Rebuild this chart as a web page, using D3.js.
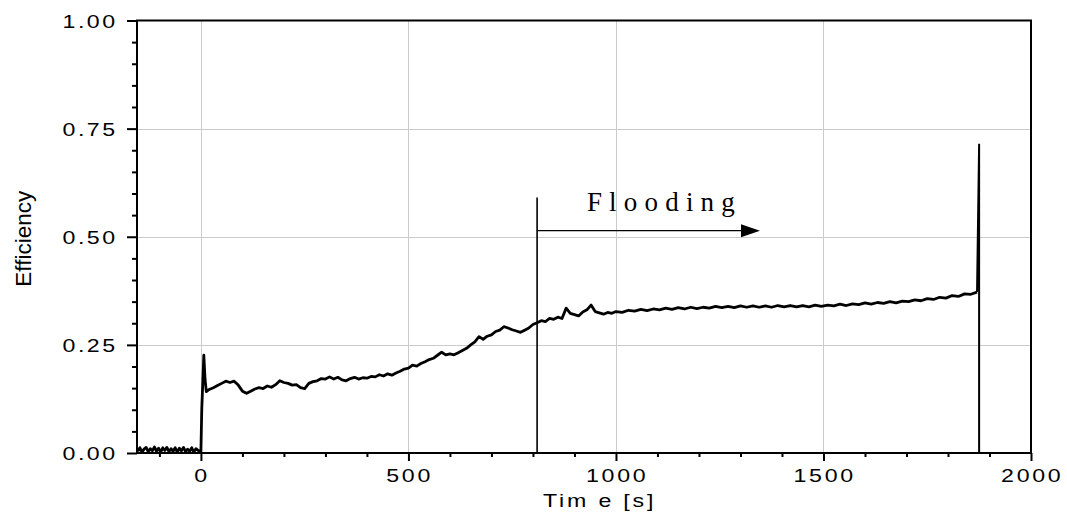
<!DOCTYPE html>
<html><head><meta charset="utf-8">
<script src="https://cdn.jsdelivr.net/npm/d3@7"></script>
<style>body{margin:0;background:#fff}svg{display:block}</style>
</head><body><svg id="c" width="1067" height="518"></svg>
<script>
// ---- data ----
const baseTime = [-152,-147,-142,-137,-132,-127,-122,-117,-112,-107,-102,-97,-92,-87,-82,-77,-72,-67,-62,-57,-52,-47,-42,-37,-32,-27,-22,-17,-12,-7,-2];
const baseEff  = [0.004,0.012,0.002,0.009,0.013,0.003,0.010,0.005,0.014,0.004,0.011,0.002,0.012,0.006,0.013,0.003,0.010,0.004,0.012,0.002,0.011,0.005,0.013,0.003,0.009,0.004,0.012,0.002,0.010,0.006,0.004];
const startTime = [0,2,4,7,10,13];
const startEff  = [0.003,0.100,0.150,0.226,0.170,0.142];
const runTime = [20,30,40,50,60,70,80,90,100,110,120,130,140,150,160,170,180,190,200,210,220,230,240,250,260,270,280,290,300,310,320,330,340,350,360,370,380,390,400,410,420,430,440,450,460,470,480,490,500,510,520,530,540,550,560,570,580,590,600,610,620,630,640,650,660,670,680,690,700,710,720,730,740,750,760,770,780,790,800,810,820,830,840,850,860,870,880,890,900,910,920,930,940,950,960,970,980,990,1000];
const runEff  = [0.147,0.151,0.156,0.161,0.166,0.163,0.166,0.157,0.143,0.138,0.143,0.148,0.151,0.149,0.155,0.152,0.158,0.167,0.163,0.161,0.157,0.158,0.151,0.149,0.161,0.165,0.167,0.172,0.171,0.176,0.171,0.175,0.169,0.167,0.172,0.175,0.171,0.174,0.173,0.177,0.176,0.181,0.178,0.183,0.180,0.185,0.189,0.194,0.196,0.203,0.201,0.207,0.211,0.216,0.219,0.226,0.233,0.227,0.229,0.227,0.232,0.237,0.242,0.250,0.257,0.269,0.263,0.270,0.273,0.281,0.284,0.292,0.289,0.285,0.282,0.279,0.284,0.289,0.297,0.301,0.306,0.304,0.311,0.309,0.314,0.311,0.335,0.323,0.320,0.317,0.326,0.331,0.342,0.327,0.324,0.321,0.325,0.323,0.327];
const lateTime = [1015,1030,1045,1060,1075,1090,1105,1120,1135,1150,1165,1180,1195,1210,1225,1240,1255,1270,1285,1300,1315,1330,1345,1360,1375,1390,1405,1420,1435,1450,1465,1480,1495,1510,1525,1540,1555,1570,1585,1600,1615,1630,1645,1660,1675,1690,1705,1720,1735,1750,1765,1780,1795,1810,1825,1840,1855,1870];
const lateEff  = [0.325,0.330,0.328,0.332,0.329,0.333,0.331,0.335,0.332,0.336,0.333,0.337,0.334,0.337,0.335,0.339,0.336,0.339,0.336,0.340,0.337,0.340,0.337,0.340,0.337,0.341,0.338,0.341,0.338,0.341,0.338,0.342,0.339,0.342,0.340,0.344,0.341,0.345,0.343,0.347,0.344,0.348,0.346,0.350,0.347,0.351,0.350,0.354,0.352,0.357,0.355,0.360,0.358,0.364,0.362,0.368,0.367,0.372];
const spikeTime = [1870,1875,1875];
const spikeEff  = [0.372,0.715,0.0];

const xMajorTicks = [0,500,1000,1500,2000];
const xTickLabels = ["0","500","1000","1500","2000"];
const yMajorTicks = [0,0.25,0.5,0.75,1.0];
const yTickLabels = ["0.00","0.25","0.50","0.75","1.00"];
const xMinorTicks = [-100,100,200,300,400,600,700,800,900,1100,1200,1300,1400,1600,1700,1800,1900];
const yMinorTicks = [0.05,0.1,0.15,0.2,0.3,0.35,0.4,0.45,0.55,0.6,0.65,0.7,0.8,0.85,0.9,0.95];
const xDomain = [-154, 2000];
const yDomain = [0, 1];
const floodStart = 810, floodTop = 0.591, arrowEnd = 1347, arrowLevel = 0.514;
const floodLabel = "Flooding", floodLabelTime = 930, floodLabelLevel = 0.560;
const xTitle = "Tim e [s]", yTitle = "Efficiency";

// ---- layout ----
const L = 137, R = 1031, T = 20.5, B = 453;
const svg = d3.select("#c");
const x = d3.scaleLinear().domain(xDomain).range([L, R]);
const y = d3.scaleLinear().domain(yDomain).range([B, T]);
const sans = "'Liberation Sans', Arial, sans-serif";
const SX = 1.22;

svg.append("defs").append("clipPath").attr("id","clip")
  .append("rect").attr("x",L).attr("y",T).attr("width",R-L).attr("height",B-T);

// grid
const grid = svg.append("g").attr("stroke","#cbcbcb").attr("stroke-width",1);
xMajorTicks.filter(d=>d>xDomain[0] && d<xDomain[1]).forEach(d=>{
  grid.append("line").attr("x1",Math.round(x(d))+0.5).attr("x2",Math.round(x(d))+0.5).attr("y1",T).attr("y2",B);
});
yMajorTicks.filter(d=>d>0 && d<1).forEach(d=>{
  grid.append("line").attr("x1",L).attr("x2",R).attr("y1",Math.round(y(d))+0.5).attr("y2",Math.round(y(d))+0.5);
});

// axes ticks via d3 axes
function styleAxis(g){ g.select(".domain").remove(); g.selectAll("line").attr("stroke","#000").attr("stroke-width",2); g.selectAll("text").remove(); }
svg.append("g").attr("transform",`translate(0,${B})`).call(d3.axisBottom(x).tickValues(xMajorTicks).tickSize(8)).call(styleAxis);
svg.append("g").attr("transform",`translate(0,${B})`).call(d3.axisBottom(x).tickValues(xMinorTicks).tickSize(4)).call(styleAxis);
svg.append("g").attr("transform",`translate(${L},0)`).call(d3.axisLeft(y).tickValues(yMajorTicks).tickSize(10)).call(styleAxis);
svg.append("g").attr("transform",`translate(${L},0)`).call(d3.axisLeft(y).tickValues(yMinorTicks).tickSize(5)).call(styleAxis);

// data line
const time = baseTime.concat(startTime, runTime, lateTime);
const eff = baseEff.concat(startEff, runEff, lateEff);
const pts = time.map((t,i)=>[t, eff[i]]);
const line = d3.line().x(d=>x(d[0])).y(d=>y(d[1]));
svg.append("path").datum(pts).attr("clip-path","url(#clip)")
  .attr("fill","none").attr("stroke","#000").attr("stroke-width",2.8).attr("stroke-linejoin","round")
  .attr("d", line);
svg.append("path").datum(spikeTime.map((t,i)=>[t, spikeEff[i]])).attr("clip-path","url(#clip)")
  .attr("fill","none").attr("stroke","#000").attr("stroke-width",2).attr("d", line);

// frame
svg.append("rect").attr("x",L).attr("y",T).attr("width",R-L).attr("height",B-T)
  .attr("fill","none").attr("stroke","#000").attr("stroke-width",2);

// flooding annotation
svg.append("line").attr("x1",x(floodStart)).attr("x2",x(floodStart)).attr("y1",y(0)).attr("y2",y(floodTop))
  .attr("stroke","#000").attr("stroke-width",1.6);
svg.append("line").attr("x1",x(floodStart)).attr("x2",x(arrowEnd)-16).attr("y1",y(arrowLevel)).attr("y2",y(arrowLevel))
  .attr("stroke","#000").attr("stroke-width",1.3);
svg.append("path").attr("fill","#000")
  .attr("d",`M${x(arrowEnd)},${y(arrowLevel)} L${x(arrowEnd)-19},${y(arrowLevel)-6.5} L${x(arrowEnd)-19},${y(arrowLevel)+6.5} Z`);
svg.append("text").attr("x",x(floodLabelTime)).attr("y",y(floodLabelLevel))
  .attr("font-family","'Liberation Serif', 'Times New Roman', serif").attr("font-size",27)
  .attr("letter-spacing",7.2).attr("fill","#000").text(floodLabel);

// tick labels (wide sans)
xMajorTicks.forEach((d,i)=>{
  svg.append("text").attr("transform",`translate(${x(d)+1.2},482) scale(${SX},1)`)
    .attr("text-anchor","middle").attr("font-family",sans).attr("font-size",19).attr("letter-spacing",2.2)
    .attr("fill","#000").text(xTickLabels[i]);
});
yMajorTicks.forEach((d,i)=>{
  svg.append("text").attr("transform",`translate(117.5,${y(d)+7.3}) scale(${SX},1)`)
    .attr("text-anchor","end").attr("font-family",sans).attr("font-size",19).attr("letter-spacing",2.0)
    .attr("fill","#000").text(yTickLabels[i]);
});
// axis titles
svg.append("text").attr("transform",`translate(543,507) scale(${SX},1)`)
  .attr("font-family",sans).attr("font-size",19).attr("letter-spacing",2.3).attr("fill","#000").text(xTitle);
svg.append("text").attr("transform",`translate(31,${(T+B)/2+2}) rotate(-90)`)
  .attr("text-anchor","middle").attr("font-family",sans).attr("font-size",22.5).attr("fill","#000").text(yTitle);
</script></body></html>
